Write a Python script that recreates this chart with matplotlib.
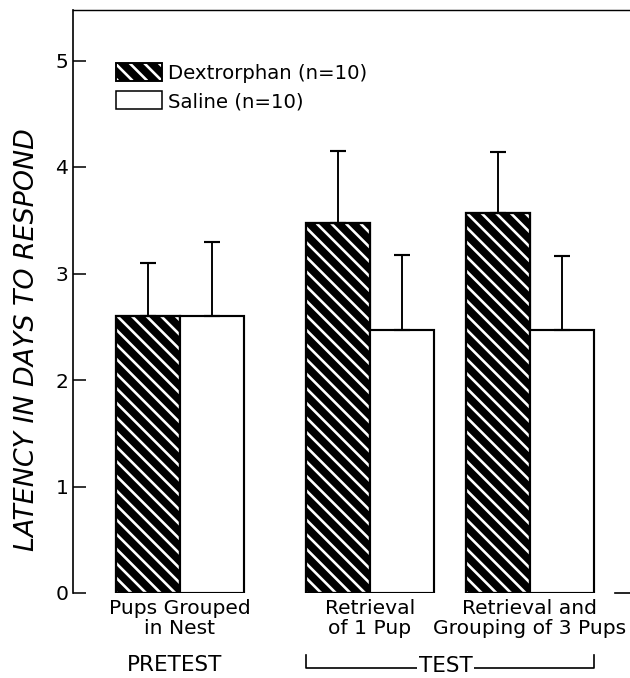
import numpy as np
import matplotlib
matplotlib.use("Agg")
import matplotlib.pyplot as plt
import matplotlib.transforms as mtransforms
from matplotlib.patches import Patch, Rectangle
from matplotlib.collections import LineCollection
from matplotlib.legend_handler import HandlerBase

# data (days)
groups = ["Pups Grouped\nin Nest", "Retrieval\nof 1 Pup", "Retrieval and\nGrouping of 3 Pups"]
dex_mean = [2.60, 3.47, 3.57]
dex_err = [0.50, 0.68, 0.57]
sal_mean = [2.60, 2.47, 2.47]
sal_err = [0.70, 0.70, 0.69]
yticks = [0, 1, 2, 3, 4, 5]

DPI = 86
STEP_PX = 14.6      # spacing of the white stripes
STRIPE_LW = 2.2
plt.rcParams["font.family"] = ["DejaVu Sans"]


def diag_segments(x0, y0, w, h, step):
    # lines x + y = c clipped to the rectangle (top-left to bottom-right stripes)
    segs = []
    c = np.ceil((x0 + y0) / step) * step
    while c < x0 + w + y0 + h:
        xa = max(x0, c - (y0 + h))
        xb = min(x0 + w, c - y0)
        if xb > xa:
            segs.append([(xa, c - xa), (xb, c - xb)])
        c += step
    return segs


class HatchHandler(HandlerBase):
    def create_artists(self, legend, orig_handle, xdescent, ydescent, width, height,
                       fontsize, trans):
        x0, y0 = -xdescent, -ydescent
        bg = Rectangle((x0, y0), width, height, facecolor="black", edgecolor="none",
                       transform=trans)
        segs = diag_segments(x0, y0, width, height, STEP_PX * 72 / DPI)
        lc = LineCollection(segs, colors="white", linewidths=STRIPE_LW, transform=trans)
        lc.set_clip_path(bg)
        ol = Rectangle((x0, y0), width, height, fill=False, edgecolor="black",
                       linewidth=1.6, transform=trans)
        return [bg, lc, ol]


fig = plt.figure(figsize=(630 / DPI, 678 / DPI), dpi=DPI)
ax = fig.add_axes([73 / 630, 1 - 593 / 678, 1 - 73 / 630, 583 / 678])

sx, sy = 64.0, 106.5   # pixels per data unit
width = 1.0
gx = np.array([1.67, 4.64, 7.14])
xd = gx - width / 2
xs = gx + width / 2

ax.set_xlim(0, 557 / sx)
ax.set_ylim(0, 583 / sy)

dex_bars = ax.bar(xd, dex_mean, width, color="black", linewidth=0, zorder=2)
for b in dex_bars.patches:
    segs = diag_segments(b.get_x() * sx, 0, b.get_width() * sx, b.get_height() * sy, STEP_PX)
    segs = [[(p[0] / sx, p[1] / sy) for p in s] for s in segs]
    lc = LineCollection(segs, colors="white", linewidths=STRIPE_LW, zorder=2.1)
    lc.set_clip_path(b)
    ax.add_collection(lc)
ax.bar(xd, dex_mean, width, fill=False, edgecolor="black", linewidth=1.9, zorder=2.2)
ax.bar(xs, sal_mean, width, color="white", edgecolor="black", linewidth=1.8, zorder=2.2)

ax.errorbar(xd, dex_mean, yerr=[np.zeros(3), dex_err], fmt="none", ecolor="black",
            elinewidth=1.6, capsize=7, capthick=1.8, zorder=3)
ax.errorbar(xs, sal_mean, yerr=[np.zeros(3), sal_err], fmt="none", ecolor="black",
            elinewidth=1.6, capsize=7, capthick=1.8, zorder=3)

ax.spines["right"].set_visible(False)
ax.spines["bottom"].set_visible(False)
ax.spines["left"].set_linewidth(1.4)
ax.spines["top"].set_linewidth(1.2)

ax.set_yticks(yticks)
ax.set_yticklabels([str(t) for t in yticks], fontsize=17)
ax.tick_params(axis="y", direction="in", length=11, width=1.3, pad=4)
ax.set_xticks(gx)
ax.set_xticklabels(groups, fontsize=17, linespacing=1.05)
ax.tick_params(axis="x", length=0, pad=5)

ax.set_ylabel("LATENCY IN DAYS TO RESPOND", fontsize=22.5, style="italic")
ax.yaxis.set_label_coords(-0.06, 0.434)

# short baseline stub at the right
ax.plot([0.973, 1.0], [0, 0], color="black", lw=1.4, transform=ax.transAxes, clip_on=False)

# PRETEST / TEST bracket
tr = mtransforms.blended_transform_factory(ax.transData, ax.transAxes)
ax.text(gx[0] - 0.08, -0.124, "PRETEST", transform=tr, ha="center", va="center", fontsize=18)
bl, br = xd[1] - width / 2, xs[2] + width / 2
ax.plot([bl, bl, br, br], [-0.106, -0.128, -0.128, -0.106], color="black", lw=1.4,
        transform=tr, clip_on=False)
ax.text((bl + br) / 2 - 0.07, -0.125, "TEST", transform=tr, ha="center", va="center",
        fontsize=18, bbox=dict(facecolor="white", edgecolor="none", pad=1.0))

# legend
h_dex = Patch(facecolor="black")
h_sal = Patch(facecolor="white", edgecolor="black", linewidth=1.3)
ax.legend([h_dex, h_sal], ["Dextrorphan (n=10)", "Saline (n=10)"],
          handler_map={h_dex: HatchHandler()},
          loc="upper left", bbox_to_anchor=(0.077, 0.909), frameon=False,
          borderpad=0, borderaxespad=0, fontsize=16.5, handlelength=2.35,
          handleheight=1.0, handletextpad=0.3, labelspacing=0.45)

fig.savefig("out.png", dpi=DPI)
